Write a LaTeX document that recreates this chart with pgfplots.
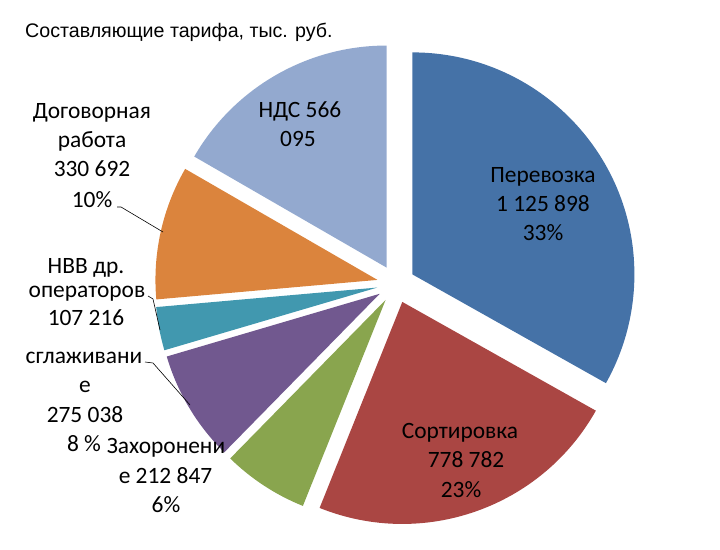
\documentclass[border=0pt]{standalone}
\usepackage{pgfplots}
\pgfplotsset{compat=1.18}
\usepackage{pgfplotstable}
\usepackage{fontspec}
\setmainfont{Carlito}
\newfontfamily\arial{Liberation Sans}

\definecolor{cP}{HTML}{4572A7}
\definecolor{cS}{HTML}{AA4643}
\definecolor{cZ}{HTML}{89A54E}
\definecolor{cG}{HTML}{71588F}
\definecolor{cN}{HTML}{4198AF}
\definecolor{cD}{HTML}{DB843D}
\definecolor{cV}{HTML}{93A9CF}

% values, clockwise from 12 o'clock
\pgfplotstableread{
value color
1125898 cP
778782 cS
212847 cZ
275038 cG
107216 cN
330692 cD
566095 cV
}\slices

\def\R{222}\def\E{19}\def\CX{396}\def\CY{256}
\def\total{0}
\pgfplotsforeachungrouped \i in {0,...,6}{%
  \pgfplotstablegetelem{\i}{value}\of\slices
  \edef\total{\fpeval{\total+\pgfplotsretval}}}

\begin{document}
\begin{tikzpicture}
\begin{axis}[scale only axis, width=720bp, height=540bp,
  xmin=0, xmax=720, ymin=0, ymax=540, hide axis, clip=false]
\path (axis cs:0,0) rectangle (axis cs:720,540);
\def\startang{90}
\pgfplotsforeachungrouped \i in {0,...,6}{%
  \pgfplotstablegetelem{\i}{value}\of\slices \let\val\pgfplotsretval
  \pgfplotstablegetelem{\i}{color}\of\slices \let\col\pgfplotsretval
  \edef\endang{\fpeval{round(\startang-360*\val/\total,4)}}%
  \edef\midang{\fpeval{(\startang+\endang)/2}}%
  \edef\ax{\fpeval{round(\CX+\E*cosd(\midang),3)}}%
  \edef\ay{\fpeval{round(\CY+\E*sind(\midang),3)}}%
  \edef\bx{\fpeval{round(\ax+\R*cosd(\startang),3)}}%
  \edef\by{\fpeval{round(\ay+\R*sind(\startang),3)}}%
  \edef\cmd{\noexpand\fill[\col] (axis cs:\ax,\ay) -- (axis cs:\bx,\by) arc[start angle=\startang, end angle=\endang, radius=\R bp] -- cycle;}%
  \cmd
  \let\startang\endang
}
\tikzset{lbl/.style={anchor=base, inner sep=0pt, font=\fontsize{23.5}{28}\selectfont}}
\node[anchor=base west, inner sep=0pt, font=\arial\fontsize{19.7}{24}\selectfont] at (axis cs:25,502) {Составляющие тарифа, тыс. руб.};
% NDS
\node[lbl] at (axis cs:300,422) {НДС 566};
\node[lbl] at (axis cs:298,393) {095};
% Perevozka
\node[lbl] at (axis cs:543,357) {Перевозка};
\node[lbl] at (axis cs:543,328) {1 125 898};
\node[lbl] at (axis cs:543,299) {33\%};
% Sortirovka
\node[lbl] at (axis cs:460,102) {Сортировка};
\node[lbl] at (axis cs:466,73) {778 782};
\node[lbl] at (axis cs:461,43) {23\%};
% Dogovornaya
\node[lbl] at (axis cs:92,421) {Договорная};
\node[lbl] at (axis cs:92,392) {работа};
\node[lbl] at (axis cs:92,363) {330 692};
\node[lbl] at (axis cs:92,332) {10\%};
% NVV
\node[lbl] at (axis cs:86,266) {НВВ др.};
\node[lbl] at (axis cs:87,243) {операторов};
\node[lbl] at (axis cs:86,215) {107 216};
% sglazhivanie
\node[lbl] at (axis cs:84,177) {сглаживани};
\node[lbl] at (axis cs:85,148) {е};
\node[lbl] at (axis cs:85,118) {275 038};
\node[lbl] at (axis cs:84,89) {8 \%};
% Zahoronenie
\node[lbl] at (axis cs:166,87) {Захоронени};
\node[lbl] at (axis cs:165.5,57) {е 212 847};
\node[lbl] at (axis cs:166,28) {6\%};
% leader lines
\draw[black, line width=0.6pt] (axis cs:117,333) -- (axis cs:121,333) -- (axis cs:163,308);
\draw[black, line width=0.6pt] (axis cs:148,244) -- (axis cs:153,241) -- (axis cs:160,210);
\draw[black, line width=0.6pt] (axis cs:145,178) -- (axis cs:153,177) -- (axis cs:190,135);
\end{axis}
\end{tikzpicture}
\end{document}
